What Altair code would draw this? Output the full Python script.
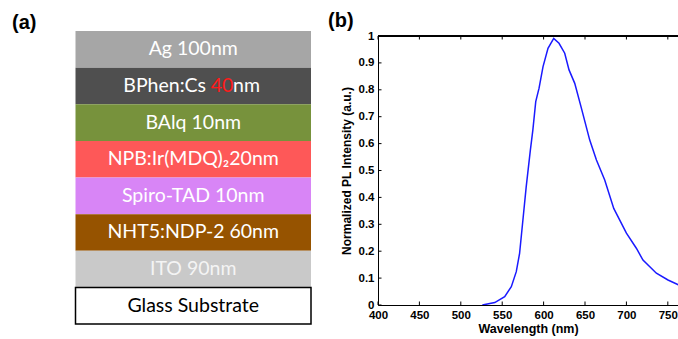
import altair as alt
import pandas as pd

# ---- (b) photoluminescence spectrum ----
wavelength = [526, 541, 553, 561, 567, 571, 575, 579, 584, 587, 590.5, 594.5,
              599.3, 605.3, 612.2, 618.6, 625.5, 630.7, 637.6, 645.7, 655.7,
              663.8, 673.8, 684.7, 700, 712, 720, 736.2, 750.2, 765]
intensity = [0, 0.009, 0.031, 0.068, 0.124, 0.192, 0.316, 0.44, 0.576, 0.65,
             0.756, 0.806, 0.886, 0.954, 0.991, 0.973, 0.936, 0.874, 0.824,
             0.731, 0.613, 0.539, 0.465, 0.359, 0.267, 0.211, 0.167, 0.118,
             0.093, 0.072]
x_ticks = [400, 450, 500, 550, 600, 650, 700, 750]
y_ticks = [0, 0.1, 0.2, 0.3, 0.4, 0.5, 0.6, 0.7, 0.8, 0.9, 1]
x_max = 762.3
x_title = "Wavelength (nm)"
y_title = "Normalized PL Intensity (a.u.)"

# ---- (a) device stack, top to bottom ----
layer_keys = ["Ag", "BPhen", "BAlq", "NPB", "Spiro", "NHT5", "ITO", "Glass"]
layer_labels = ["Ag 100nm", "", "BAlq 10nm", "NPB:Ir(MDQ)\u208220nm",
                "Spiro-TAD 10nm", "NHT5:NDP-2 60nm", "ITO 90nm", "Glass Substrate"]
layer_fill = ["#a6a6a6", "#4f4f4f", "#77923c", "#fe5858", "#d885f6",
              "#965300", "#c9c9c9", "#ffffff"]
label_color = ["white", "white", "white", "white", "white", "white", "#f4f4f4", "black"]
# BPhen:Cs label is written in pieces so the thickness can be highlighted
bphen_parts = ["BPhen:Cs", "40", "nm"]
panel_labels = ["(a)", "(b)"]

FONT = "Liberation Sans"
STACK_FONT = "Lato"
STACK_SIZE = 19.5

spec_df = pd.DataFrame({"wl": wavelength, "pl": intensity})
xt_df = pd.DataFrame({"t": x_ticks})
yt_df = pd.DataFrame({"t": y_ticks})
stack_df = pd.DataFrame({"key": layer_keys, "label": layer_labels,
                         "fill": layer_fill, "tc": label_color})

xscale = alt.Scale(domain=[400, x_max], nice=False, zero=False)
yscale = alt.Scale(domain=[0, 1], nice=False)
band = alt.Scale(domain=layer_keys, range=[-5, 288], paddingInner=0, paddingOuter=0)

x_axis = alt.Axis(values=x_ticks, labelFlush=False, labelOverlap=False,
                  ticks=False, tickSize=0, domainColor="black",
                  labelFont=FONT, labelFontWeight="bold", labelFontSize=11.5,
                  labelColor="black", labelPadding=4, grid=False,
                  titleFont=FONT, titleFontWeight="bold", titleFontSize=12.5,
                  titleColor="black", titlePadding=2)
y_axis = alt.Axis(orient="left", values=y_ticks, format="~g",
                  labelOverlap=False, labelFlush=False,
                  ticks=False, tickSize=0, domainColor="black",
                  labelFont=FONT, labelFontWeight="bold", labelFontSize=11.5,
                  labelColor="black", labelPadding=4, grid=False,
                  titleFont=FONT, titleFontWeight="bold", titleFontSize=12,
                  titleColor="black", titlePadding=5)

# --- stack diagram ---
X0, X1 = -302.5, -67
XC = (X0 + X1) / 2
ybar = alt.Y("key:N", scale=band, axis=None, sort=layer_keys)
rects = alt.Chart(stack_df).mark_rect(stroke=None).encode(
    y=ybar, x=alt.value(X0), x2=alt.value(X1),
    fill=alt.Fill("fill:N", scale=None),
)
glass = alt.Chart(stack_df).transform_filter(alt.datum.key == "Glass").mark_rect(
    fill="white", stroke="black", strokeWidth=1.5
).encode(y=ybar, x=alt.value(X0), x2=alt.value(X1))
labels = alt.Chart(stack_df).mark_text(
    font=STACK_FONT, fontSize=STACK_SIZE, baseline="middle", align="center"
).encode(
    y=ybar, x=alt.value(XC), text="label:N",
    color=alt.Color("tc:N", scale=None),
)
bphen_df = pd.DataFrame({"key": ["BPhen"] * 3, "part": bphen_parts})
bp_common = dict(font=STACK_FONT, fontSize=STACK_SIZE, baseline="middle")
bp1 = alt.Chart(bphen_df).transform_filter(alt.datum.part == bphen_parts[0]).mark_text(
    align="right", color="white", **bp_common
).encode(y=ybar, x=alt.value(-172), text="part:N")
bp2 = alt.Chart(bphen_df).transform_filter(alt.datum.part == bphen_parts[1]).mark_text(
    align="center", color="#ff1a1a", **bp_common
).encode(y=ybar, x=alt.value(-156), text="part:N")
bp3 = alt.Chart(bphen_df).transform_filter(alt.datum.part == bphen_parts[2]).mark_text(
    align="left", color="white", **bp_common
).encode(y=ybar, x=alt.value(-145), text="part:N")

pa = alt.Chart(pd.DataFrame({"t": [panel_labels[0]]})).mark_text(
    font=FONT, fontSize=20, fontWeight="bold", align="left", baseline="middle"
).encode(text="t:N", x=alt.value(-366), y=alt.value(-13))
pb = alt.Chart(pd.DataFrame({"t": [panel_labels[1]]})).mark_text(
    font=FONT, fontSize=20, fontWeight="bold", align="left", baseline="middle"
).encode(text="t:N", x=alt.value(-50), y=alt.value(-15))

diagram = alt.layer(rects, glass, labels, bp1, bp2, bp3, pa, pb)

# --- spectrum plot ---
line = alt.Chart(spec_df).mark_line(color="#1a1aff", strokeWidth=1.5, clip=True).encode(
    x=alt.X("wl:Q", scale=xscale, title=x_title, axis=x_axis),
    y=alt.Y("pl:Q", scale=yscale, title=y_title, axis=y_axis),
)
top_border = alt.Chart(xt_df).mark_rule(color="black", strokeWidth=1).encode(
    x=alt.datum(400, scale=xscale, title=x_title, axis=x_axis), x2=alt.datum(x_max),
    y=alt.datum(1, scale=yscale, title=y_title, axis=y_axis)
)
bottom_ticks = alt.Chart(xt_df).mark_rule(color="black").encode(
    x=alt.X("t:Q", scale=xscale, title=x_title, axis=x_axis),
    y=alt.value(269), y2=alt.value(265.5)
)
top_ticks = alt.Chart(xt_df).mark_rule(color="black").encode(
    x=alt.X("t:Q", scale=xscale, title=x_title, axis=x_axis),
    y=alt.value(0), y2=alt.value(3.5)
)
left_ticks = alt.Chart(yt_df).mark_rule(color="black").encode(
    y=alt.Y("t:Q", scale=yscale, title=y_title, axis=y_axis),
    x=alt.value(0), x2=alt.value(3.5)
)
plot = alt.layer(line, top_border, bottom_ticks, top_ticks, left_ticks)

chart = alt.layer(diagram, plot).resolve_scale(y="independent").properties(
    width=300, height=269,
    autosize=alt.AutoSizeParams(type="none"),
    padding={"left": 378, "top": 36, "right": 0, "bottom": 34},
    background="white",
).configure_view(stroke=None)

chart.save("out.html", embed_options={"renderer": "svg", "actions": False})
